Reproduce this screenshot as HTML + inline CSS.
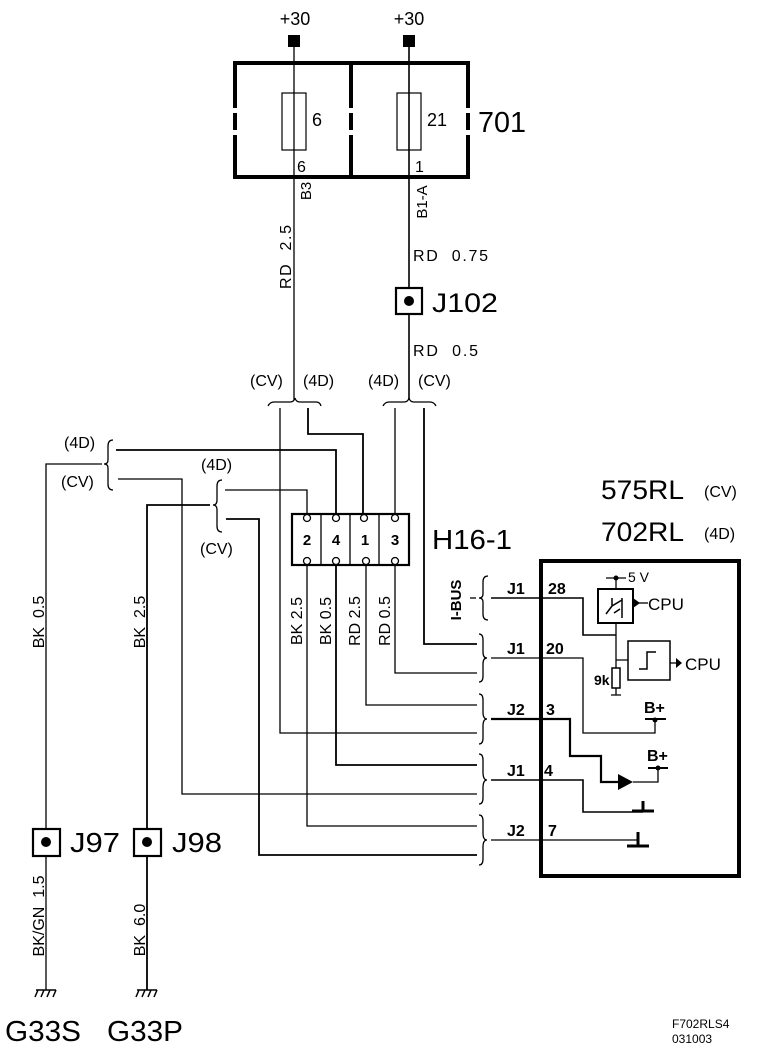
<!DOCTYPE html>
<html><head><meta charset="utf-8"><style>
html,body{margin:0;padding:0;background:#fff;}
svg{display:block;font-family:"Liberation Sans",Arial,sans-serif;}
</style></head><body>
<svg width="768" height="1054" viewBox="0 0 768 1054" xmlns="http://www.w3.org/2000/svg">
<g fill="none" stroke="#000" stroke-width="1.3">
<path d="M235 63 H468 V177 H235 Z M351 63 V177" stroke-width="4"/>
<g stroke="#fff" stroke-width="6">
<path d="M235 108 V113 M235 130 V135 M351 108 V113 M351 130 V135 M468 108 V113 M468 130 V135"/>
</g>
<rect x="282" y="93" width="24" height="57" stroke-width="1.2"/>
<rect x="397" y="93" width="24" height="57" stroke-width="1.2"/>
<path d="M294 41 V400"/>
<path d="M409 41 V400" stroke-width="1.6"/>
<rect x="396" y="288" width="26" height="26" stroke-width="2.2" fill="#fff"/>
<path d="M268 406 Q270 402 274 402 H290 Q294 402 295 398 Q296 402 300 402 H316 Q320 402 321 406"/>
<path d="M383 406 Q385 402 389 402 H404 Q408 402 409 398 Q410 402 414 402 H430 Q434 402 436 406"/>
<path d="M280 408 V733 H477"/>
<path d="M308 408 V434 H363 V514" stroke-width="1.8"/>
<path d="M395 408 V514"/>
<path d="M424 408 V644 H477" stroke-width="1.8"/>
<path d="M113 440 Q108 440 108 446 V460 Q108 464 104 464 Q108 464 108 468 V484 Q108 490 113 490"/>
<path d="M222 480 Q217 480 217 486 V500 Q217 505 213 505 Q217 505 217 510 V526 Q217 532 222 532"/>
<path d="M46 990 V464 H102"/>
<path d="M116 450 H336 V514" stroke-width="1.8"/>
<path d="M118 479 H182 V794 H477"/>
<path d="M147 990 V505 H210" stroke-width="1.8"/>
<path d="M225 490 H307 V514"/>
<path d="M226 519 H259 V855 H477" stroke-width="1.8"/>
<path d="M307 565 V826 H477"/>
<path d="M336 565 V765 H477" stroke-width="1.8"/>
<path d="M366 565 V705 H477"/>
<path d="M395 565 V673 H477"/>
<rect x="292" y="514" width="117" height="51" stroke-width="2.2" fill="#fff"/>
<path d="M321 514 V565 M350 514 V565 M379 514 V565"/>
<g fill="#fff" stroke-width="1.3">
<circle cx="307" cy="518" r="3.5"/><circle cx="336" cy="518" r="3.5"/><circle cx="364" cy="518" r="3.5"/><circle cx="395" cy="518" r="3.5"/>
<circle cx="307" cy="561" r="3.5"/><circle cx="336" cy="561" r="3.5"/><circle cx="366" cy="561" r="3.5"/><circle cx="395" cy="561" r="3.5"/>
</g>
<path d="M488 576 Q483 576 483 582 V594 Q483 598 479 598 Q483 598 483 602 V614 Q483 620 488 620"/>
<path d="M476 598 H470"/>
<path d="M479 634 Q483 634 483 640 V652 Q483 658 487 658 Q483 658 483 664 V676 Q483 682 479 682"/>
<path d="M479 694 Q483 694 483 700 V712 Q483 719 487 719 Q483 719 483 726 V738 Q483 744 479 744"/>
<path d="M479 754 Q483 754 483 760 V772 Q483 780 487 780 Q483 780 483 788 V798 Q483 804 479 804"/>
<path d="M479 815 Q483 815 483 821 V833 Q483 840 487 840 Q483 840 483 847 V859 Q483 865 479 865"/>
<rect x="541" y="561" width="198" height="315" stroke-width="4"/>
<path d="M491 598 H583 V635 H616" stroke-width="1.6"/>
<path d="M491 658 H583 V733 H655 V720"/>
<path d="M491 719 H570 V756 H601 V782 H618" stroke-width="2.2"/>
<path d="M491 780 H583 V812 H643" stroke-width="1.6"/>
<path d="M491 840 H638"/>
<path d="M643 801 V810 M638 832 V847" stroke-width="3"/>
<path d="M632 811 H654 M627 846 H649" stroke-width="3"/>
<path d="M645 719 H666 M648 768 H668" stroke-width="2"/>
<path d="M658 768 V782 H633"/>
<rect x="598" y="589" width="35" height="34" stroke-width="2"/>
<path d="M616 589 V578 M606 578 H626" />
<path d="M616 623 V668 M616 660 H628 M616 688 V695 M611 695 H621"/>
<path d="M606 614 L612 606 L622 600 M612 606 V598 M622 598 V618 M614 613 L620 609" stroke-width="1.5"/>
<path d="M648 603 H638"/>
<rect x="612" y="668" width="8" height="20" stroke-width="1.5"/>
<rect x="628" y="641" width="42" height="39" stroke-width="1.5"/>
<path d="M639 669 H647 V652 H656" stroke-width="1.5"/>
<path d="M670 663 H676"/>
<rect x="33" y="829" width="27" height="27" stroke-width="2.2" fill="#fff"/>
<rect x="134" y="829" width="27" height="27" stroke-width="2.2" fill="#fff"/>
<path d="M36 990 H56 M38 990 L35 997 M44 990 L41 997 M50 990 L47 997 M56 990 L53 997" stroke-width="1.5"/>
<path d="M137 990 H157 M139 990 L136 997 M145 990 L142 997 M151 990 L148 997 M157 990 L154 997" stroke-width="1.5"/>
</g>
<g fill="#000">
<rect x="288" y="35" width="12" height="12"/>
<rect x="403" y="35" width="12" height="12"/>
<circle cx="409" cy="301" r="5"/>
<circle cx="46" cy="842" r="5"/>
<circle cx="147" cy="842" r="5"/>
<circle cx="616" cy="578" r="2.5"/><circle cx="655" cy="720" r="2.5"/><circle cx="658" cy="768" r="2.5"/>
<path d="M618 774 L633 782 L618 790 Z"/>
<path d="M633 598 L640 603 L633 608 Z"/>
<path d="M676 658 L682 663 L676 668 Z"/>
</g>
<g fill="#000">
<text x="295" y="25" text-anchor="middle" font-size="18">+30</text>
<text x="409" y="25" text-anchor="middle" font-size="18">+30</text>
<text x="312" y="126" font-size="18">6</text>
<text x="427" y="126" font-size="18">21</text>
<text x="478" y="132" font-size="29" textLength="48" lengthAdjust="spacingAndGlyphs">701</text>
<text x="297" y="172" font-size="16">6</text>
<text x="415" y="172" font-size="16">1</text>
<text transform="translate(311,191) rotate(-90)" text-anchor="middle" font-size="15">B3</text>
<text transform="translate(427,202) rotate(-90)" text-anchor="middle" font-size="15">B1-A</text>
<text transform="translate(291,257) rotate(-90)" text-anchor="middle" font-size="16" textLength="64" xml:space="preserve">RD  2.5</text>
<text x="413" y="261" font-size="16" textLength="75" xml:space="preserve">RD  0.75</text>
<text x="432" y="312" font-size="27" textLength="66" lengthAdjust="spacingAndGlyphs">J102</text>
<text x="413" y="356" font-size="16" textLength="65" xml:space="preserve">RD  0.5</text>
<text x="250" y="386" font-size="16">(CV)</text>
<text x="303" y="386" font-size="16">(4D)</text>
<text x="368" y="386" font-size="16">(4D)</text>
<text x="418" y="386" font-size="16">(CV)</text>
<text x="64" y="448" font-size="16">(4D)</text>
<text x="61" y="487" font-size="16">(CV)</text>
<text x="201" y="470" font-size="16">(4D)</text>
<text x="200" y="554" font-size="16">(CV)</text>
<g font-size="15" font-weight="bold" text-anchor="middle">
<text x="307" y="545">2</text><text x="336" y="545">4</text><text x="365" y="545">1</text><text x="395" y="545">3</text>
</g>
<text x="432" y="549" font-size="28" textLength="80" lengthAdjust="spacingAndGlyphs">H16-1</text>
<text x="601" y="499" font-size="27" textLength="83" lengthAdjust="spacingAndGlyphs">575RL</text>
<text x="704" y="497" font-size="16">(CV)</text>
<text x="601" y="541" font-size="27" textLength="83" lengthAdjust="spacingAndGlyphs">702RL</text>
<text x="704" y="539" font-size="16">(4D)</text>
<g font-size="16">
<text transform="translate(302,621) rotate(-90)" text-anchor="middle" xml:space="preserve">BK 2.5</text>
<text transform="translate(331,621) rotate(-90)" text-anchor="middle" xml:space="preserve">BK 0.5</text>
<text transform="translate(360,621) rotate(-90)" text-anchor="middle" xml:space="preserve">RD 2.5</text>
<text transform="translate(390,621) rotate(-90)" text-anchor="middle" xml:space="preserve">RD 0.5</text>
<text transform="translate(461,600) rotate(-90)" text-anchor="middle" font-weight="bold" font-size="15">I-BUS</text>
<text transform="translate(44,622) rotate(-90)" text-anchor="middle" xml:space="preserve">BK  0.5</text>
<text transform="translate(145,622) rotate(-90)" text-anchor="middle" xml:space="preserve">BK  2.5</text>
<text transform="translate(44,916) rotate(-90)" text-anchor="middle" xml:space="preserve">BK/GN  1.5</text>
<text transform="translate(145,930) rotate(-90)" text-anchor="middle" xml:space="preserve">BK  6.0</text>
</g>
<g font-size="16" font-weight="bold">
<text x="507" y="594">J1</text><text x="548" y="594">28</text>
<text x="507" y="654">J1</text><text x="546" y="654">20</text>
<text x="507" y="715">J2</text><text x="546" y="715">3</text>
<text x="507" y="776">J1</text><text x="544" y="776">4</text>
<text x="507" y="836">J2</text><text x="548" y="836">7</text>
</g>
<text x="628" y="582" font-size="14">5 V</text>
<text x="648" y="610" font-size="17">CPU</text>
<text x="685" y="670" font-size="17">CPU</text>
<text x="594" y="685" font-size="14" font-weight="bold">9k</text>
<text x="644" y="713" font-size="16" font-weight="bold">B+</text>
<text x="647" y="761" font-size="16" font-weight="bold">B+</text>
<text x="70" y="852" font-size="28" textLength="50" lengthAdjust="spacingAndGlyphs">J97</text>
<text x="172" y="852" font-size="28" textLength="50" lengthAdjust="spacingAndGlyphs">J98</text>
<text x="5" y="1041" font-size="29" textLength="76" lengthAdjust="spacingAndGlyphs">G33S</text>
<text x="107" y="1041" font-size="29" textLength="76" lengthAdjust="spacingAndGlyphs">G33P</text>
<text x="672" y="1028" font-size="12">F702RLS4</text>
<text x="672" y="1043" font-size="12">031003</text>
</g>
</svg>
</body></html>
